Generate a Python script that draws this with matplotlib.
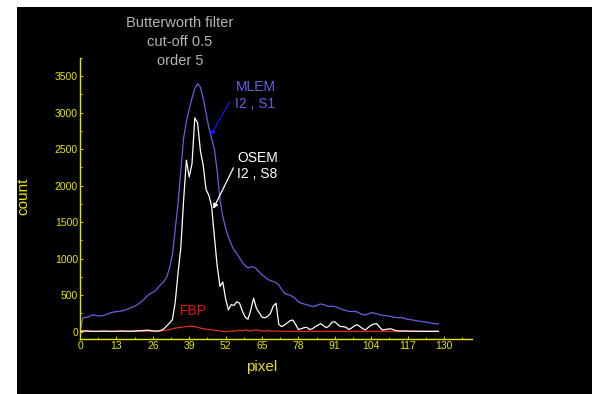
import numpy as np
import matplotlib
matplotlib.use("Agg")
import matplotlib.pyplot as plt
from matplotlib.patches import Rectangle
from matplotlib.ticker import MultipleLocator

plt.rcParams["font.family"] = ["Liberation Sans", "DejaVu Sans"]

# ---------------------------------------------------------------------------
# Data (profile counts, pixel 0..128)
# ---------------------------------------------------------------------------
pixel = np.arange(129)

mlem = [
    0, 190, 195, 205, 225, 230, 220, 215, 220, 230,
    245, 260, 270, 275, 280, 285, 295, 310, 325, 340,
    360, 385, 415, 450, 490, 520, 540, 565, 610, 650,
    690, 750, 880, 1050, 1400, 1750, 2200, 2650, 2880, 3050,
    3200, 3330, 3400, 3350, 3200, 3000, 2800, 2650, 2500, 2200,
    1800, 1580, 1420, 1300, 1200, 1120, 1070, 1010, 950, 905,
    875, 885, 890, 860, 820, 780, 750, 720, 700, 690,
    670, 640, 580, 530, 510, 500, 480, 450, 410, 390,
    380, 370, 355, 345, 350, 370, 380, 370, 355, 345,
    350, 345, 330, 315, 300, 290, 280, 275, 280, 270,
    250, 235, 230, 245, 260, 255, 245, 235, 225, 220,
    215, 210, 200, 195, 190, 195, 180, 170, 165, 160,
    150, 145, 140, 135, 128, 122, 115, 110, 105,
]

osem = [
    5, 10, 10, 8, 6, 5, 5, 6, 8, 8,
    6, 5, 5, 6, 8, 10, 8, 6, 6, 8,
    10, 12, 15, 18, 20, 18, 12, 8, 10, 20,
    40, 80, 120, 165, 400, 800, 1150, 1800, 2350, 2120,
    2300, 2930, 2860, 2480, 2280, 1950, 1870, 1720, 1300, 900,
    620, 680, 450, 300, 370, 360, 410, 390, 280, 200,
    170, 300, 460, 320, 260, 200, 190, 210, 250, 350,
    390, 100, 70, 90, 120, 150, 160, 100, 30, 40,
    55, 60, 30, 40, 70, 90, 110, 80, 55, 80,
    130, 135, 100, 70, 70, 60, 30, 50, 80, 95,
    70, 40, 25, 60, 90, 105, 110, 60, 25, 30,
    35, 40, 25, 15, 10, 10, 10, 8, 8, 7,
    6, 6, 5, 5, 5, 5, 5, 5, 5,
]

fbp = [
    5, 5, 6, 5, 5, 6, 5, 5, 5, 6,
    5, 5, 5, 6, 5, 5, 5, 5, 5, 5,
    5, 5, 5, 5, 5, 6, 6, 7, 8, 10,
    15, 20, 30, 40, 50, 55, 60, 65, 70, 72,
    75, 70, 60, 50, 40, 35, 30, 25, 20, 15,
    10, 5, 0, 5, 10, 5, 15, 20, 10, 25,
    15, 10, 20, 25, 15, 10, 5, 15, 10, 5,
    10, 8, 6, 5, 5, 5, 5, 6, 5, 5,
    5, 5, 5, 5, 5, 5, 5, 5, 5, 5,
    5, 5, 5, 5, 5, 5, 5, 5, 5, 5,
    5, 5, 5, 5, 5, 5, 5, 5, 5, 5,
    5, 5, 5, 5, 5, 5, 5, 5, 5, 5,
    5, 5, 5, 5, 5, 5, 5, 5, 5,
]

x_ticks = [0, 13, 26, 39, 52, 65, 78, 91, 104, 117, 130]
y_ticks = [0, 500, 1000, 1500, 2000, 2500, 3000, 3500]
title_lines = ["Butterworth filter", "cut-off 0.5", "order 5"]

# ---------------------------------------------------------------------------
# Colours
# ---------------------------------------------------------------------------
YELLOW = "#e6e600"
BLUE = "#6262e0"
RED = "#e0301e"
GREY = "#b4b4b4"

W, H = 592, 394
fig = plt.figure(figsize=(W / 100, H / 100), dpi=100)
fig.patch.set_facecolor("white")
# black panel with a thin white margin on the left/top
fig.patches.append(Rectangle((17 / W, 0), 1 - 17 / W, 1 - 7 / H,
                             transform=fig.transFigure, facecolor="black",
                             edgecolor="none", zorder=-10))

ax = fig.add_axes([80 / W, 55 / H, 392 / W, 281 / H])
ax.set_facecolor("none")
ax.set_zorder(5)
ax.set_xlim(0, 140)
ax.set_ylim(-100, 3750)

ax.plot(pixel, mlem, color=BLUE, lw=0.9)
ax.plot(pixel, fbp, color=RED, lw=0.9)
ax.plot(pixel, osem, color="white", lw=0.9)

for side in ("top", "right"):
    ax.spines[side].set_visible(False)
for side in ("left", "bottom"):
    ax.spines[side].set_color(YELLOW)
    ax.spines[side].set_linewidth(1.0)

ax.set_xticks(x_ticks)
ax.set_yticks(y_ticks)
ax.xaxis.set_minor_locator(MultipleLocator(6.5))
ax.yaxis.set_minor_locator(MultipleLocator(250))
ax.tick_params(which="both", direction="in", colors=YELLOW, length=2.5,
               width=0.6, labelsize=7.5, pad=1.5)
ax.tick_params(which="minor", length=1.5)

fig.text(23 / W, 1 - 196 / H, "count", rotation=90, ha="center", va="center",
         fontsize=11, color=YELLOW)
fig.text(262 / W, 1 - 367 / H, "pixel", ha="center", va="center",
         fontsize=11, color=YELLOW)

for i, line in enumerate(title_lines):
    fig.text(180 / W, 1 - (23 + 19 * i) / H, line, ha="center", va="center",
             fontsize=10.5, color=GREY)

# series labels with arrows
ax.text(55.5, 3354, "MLEM", ha="left", va="center", fontsize=10, color=BLUE)
ax.text(55.5, 3121, "I2 , S1", ha="left", va="center", fontsize=10, color=BLUE)
ax.annotate("", xy=(46.6, 2683), xytext=(53.4, 3149),
            arrowprops=dict(arrowstyle="-|>", color="#1010ff", lw=0.9,
                            mutation_scale=7, shrinkA=0, shrinkB=0))

ax.text(56.2, 2382, "OSEM", ha="left", va="center", fontsize=10, color="white")
ax.text(56.2, 2163, "I2 , S8", ha="left", va="center", fontsize=10, color="white")
ax.annotate("", xy=(47.6, 1684), xytext=(54.8, 2245),
            arrowprops=dict(arrowstyle="-|>", color="white", lw=0.9,
                            mutation_scale=7, shrinkA=0, shrinkB=0))

ax.text(35.8, 287, "FBP", ha="left", va="center", fontsize=10, color="#dd1111")

fig.savefig("out.png", dpi=100, facecolor=fig.get_facecolor())
